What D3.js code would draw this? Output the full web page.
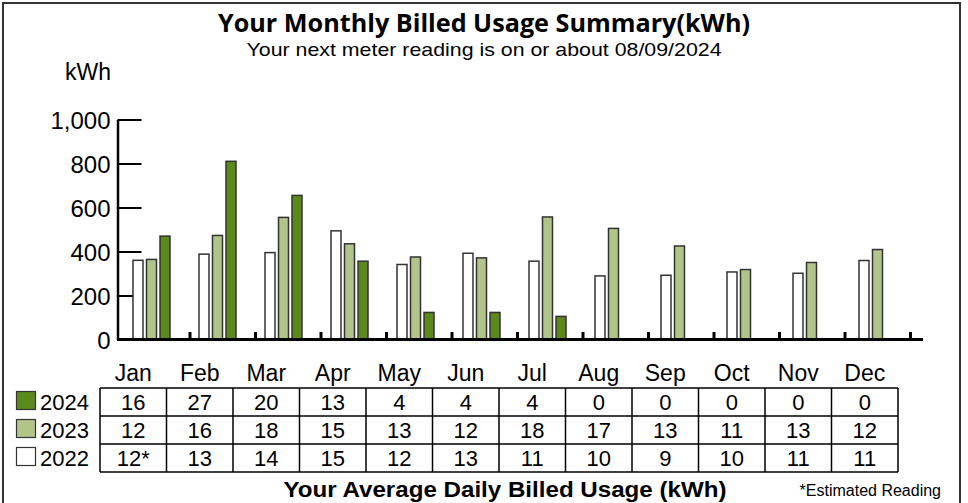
<!DOCTYPE html>
<html>
 <head>
  <meta charset="utf-8">
  <script src="https://d3js.org/d3.v7.min.js"></script>
  <style>
   body { margin: 0; background: #fff; }
   text { font-family: "Liberation Sans", Arial, sans-serif; fill: #000; }
   .axis path, .axis line { stroke: #000; }
  </style>
 </head>
 <body>
  <script>
   // chart data
   var months = ["Jan","Feb","Mar","Apr","May","Jun","Jul","Aug","Sep","Oct","Nov","Dec"];
   var years = ["2022","2023","2024"];
   var kwh2022 = [360, 388, 395, 494, 341, 392, 356, 289, 292, 307, 301, 359];
   var kwh2023 = [364, 473, 555, 435, 375, 371, 557, 505, 425, 318, 350, 409];
   var kwh2024 = [470, 810, 655, 356, 123, 123, 105, null, null, null, null, null];
   var avg2024 = ["16","27","20","13","4","4","4","0","0","0","0","0"];
   var avg2023 = ["12","16","18","15","13","12","18","17","13","11","13","12"];
   var avg2022 = ["12*","13","14","15","12","13","11","10","9","10","11","11"];
   var yTicks = [0, 200, 400, 600, 800, 1000];

   var w = 968, h = 503;
   var svg = d3.select("body").append("svg")
               .attr("width", w)
               .attr("height", h);

   var colors = {"2022": "#ffffff", "2023": "#b1c48a", "2024": "#5b891c"};
   var series = {"2022": kwh2022, "2023": kwh2023, "2024": kwh2024};

   // frame
   svg.append("rect")
      .attr("x", 3).attr("y", 3)
      .attr("width", 957).attr("height", 520)
      .attr("fill", "none")
      .attr("stroke", "#333")
      .attr("stroke-width", 2);

   // titles
   svg.append("text")
      .attr("x", 484).attr("y", 32)
      .attr("text-anchor", "middle")
      .style("font-family", "'Open Sans', sans-serif")
      .style("font-weight", "bold")
      .style("font-size", "25px")
      .attr("textLength", 532)
      .attr("lengthAdjust", "spacingAndGlyphs")
      .text("Your Monthly Billed Usage Summary(kWh)");

   svg.append("text")
      .attr("x", 484).attr("y", 56)
      .attr("text-anchor", "middle")
      .style("font-size", "19px")
      .attr("textLength", 475)
      .attr("lengthAdjust", "spacingAndGlyphs")
      .text("Your next meter reading is on or about 08/09/2024");

   svg.append("text")
      .attr("x", 65).attr("y", 80)
      .style("font-size", "23px")
      .text("kWh");

   // scales
   var y = d3.scaleLinear().domain([0, 1000]).range([339.5, 119.5]);
   var x = d3.scaleBand().domain(months).range([124.5, 916.5]);
   var xYear = d3.scaleBand().domain(years).range([8.5, 45.5]).paddingInner(0.26);
   var xTick = d3.scaleLinear().domain([0, 12]).range([124.5, 910.5]);

   // y axis, ticks pointing into the plot
   svg.append("g")
      .attr("class", "axis")
      .attr("transform", "translate(117.5,0)")
      .call(d3.axisLeft(y)
              .tickValues(yTicks)
              .tickSize(-24)
              .tickSizeOuter(0)
              .tickPadding(7)
              .tickFormat(d3.format(",")))
      .call(function(g) {
        g.selectAll("line").attr("stroke-width", 2);
        g.select(".domain").attr("stroke-width", 2.5);
        g.selectAll("text")
         .style("font-family", "'Liberation Sans', Arial, sans-serif")
         .style("font-size", "24px")
         .attr("dy", "0.36em");
      });

   // category separators on the x axis
   svg.append("g")
      .selectAll("line")
      .data(d3.range(1, 13))
      .enter()
      .append("line")
      .attr("x1", function(d) { return xTick(d); })
      .attr("x2", function(d) { return xTick(d); })
      .attr("y1", 332)
      .attr("y2", 340)
      .attr("stroke", "#000")
      .attr("stroke-width", 3);

   // bars
   var groups = svg.append("g")
      .selectAll("g")
      .data(months)
      .enter()
      .append("g")
      .attr("transform", function(d) { return "translate(" + x(d) + ",0)"; });

   groups.selectAll("rect")
      .data(function(m, i) {
        return years.map(function(yr) { return {year: yr, value: series[yr][i]}; })
                    .filter(function(d) { return d.value != null; });
      })
      .enter()
      .append("rect")
      .attr("x", function(d) { return xYear(d.year); })
      .attr("width", xYear.bandwidth())
      .attr("y", function(d) { return y(d.value); })
      .attr("height", function(d) { return y(0) - y(d.value); })
      .attr("fill", function(d) { return colors[d.year]; })
      .attr("stroke", "#333")
      .attr("stroke-width", 1.5);

   // x axis baseline
   svg.append("line")
      .attr("x1", 117).attr("x2", 923)
      .attr("y1", 339.5).attr("y2", 339.5)
      .attr("stroke", "#000")
      .attr("stroke-width", 3);

   // table of average daily usage
   var col = d3.scaleBand().domain(months).range([100, 898]);
   var rowYears = ["2024", "2023", "2022"];
   var rowVals = {"2024": avg2024, "2023": avg2023, "2022": avg2022};
   var row = d3.scaleBand().domain(rowYears).range([388, 472]);

   svg.append("g")
      .selectAll("text")
      .data(months)
      .enter()
      .append("text")
      .attr("x", function(d) { return col(d) + col.bandwidth() / 2; })
      .attr("y", 381)
      .attr("text-anchor", "middle")
      .style("font-size", "23px")
      .text(function(d) { return d; });

   var table = svg.append("g");
   table.selectAll("line.h")
      .data(d3.range(4))
      .enter()
      .append("line")
      .attr("x1", 100).attr("x2", 898)
      .attr("y1", function(d) { return 388 + d * row.step(); })
      .attr("y2", function(d) { return 388 + d * row.step(); })
      .attr("stroke", "#000")
      .attr("stroke-width", 1.5);
   table.selectAll("line.v")
      .data(d3.range(13))
      .enter()
      .append("line")
      .attr("x1", function(d) { return 100 + d * col.step(); })
      .attr("x2", function(d) { return 100 + d * col.step(); })
      .attr("y1", 388).attr("y2", 472)
      .attr("stroke", "#000")
      .attr("stroke-width", 1.5);

   rowYears.forEach(function(yr) {
     table.append("g")
        .selectAll("text")
        .data(rowVals[yr])
        .enter()
        .append("text")
        .attr("x", function(d, i) { return col(months[i]) + col.bandwidth() / 2; })
        .attr("y", row(yr) + 22)
        .attr("text-anchor", "middle")
        .style("font-size", "22px")
        .text(function(d) { return d; });

     // legend entry
     svg.append("rect")
        .attr("x", 16.5).attr("y", row(yr) + 3.5)
        .attr("width", 19).attr("height", 18)
        .attr("fill", colors[yr])
        .attr("stroke", "#333")
        .attr("stroke-width", 1.2);
     svg.append("text")
        .attr("x", 40).attr("y", row(yr) + 22)
        .style("font-size", "22px")
        .text(yr);
   });

   svg.append("text")
      .attr("x", 505).attr("y", 497)
      .attr("text-anchor", "middle")
      .style("font-weight", "bold")
      .style("font-size", "22px")
      .attr("textLength", 443)
      .attr("lengthAdjust", "spacingAndGlyphs")
      .text("Your Average Daily Billed Usage (kWh)");

   svg.append("text")
      .attr("x", 941).attr("y", 496)
      .attr("text-anchor", "end")
      .style("font-size", "16px")
      .text("*Estimated Reading");
  </script>
 </body>
</html>
